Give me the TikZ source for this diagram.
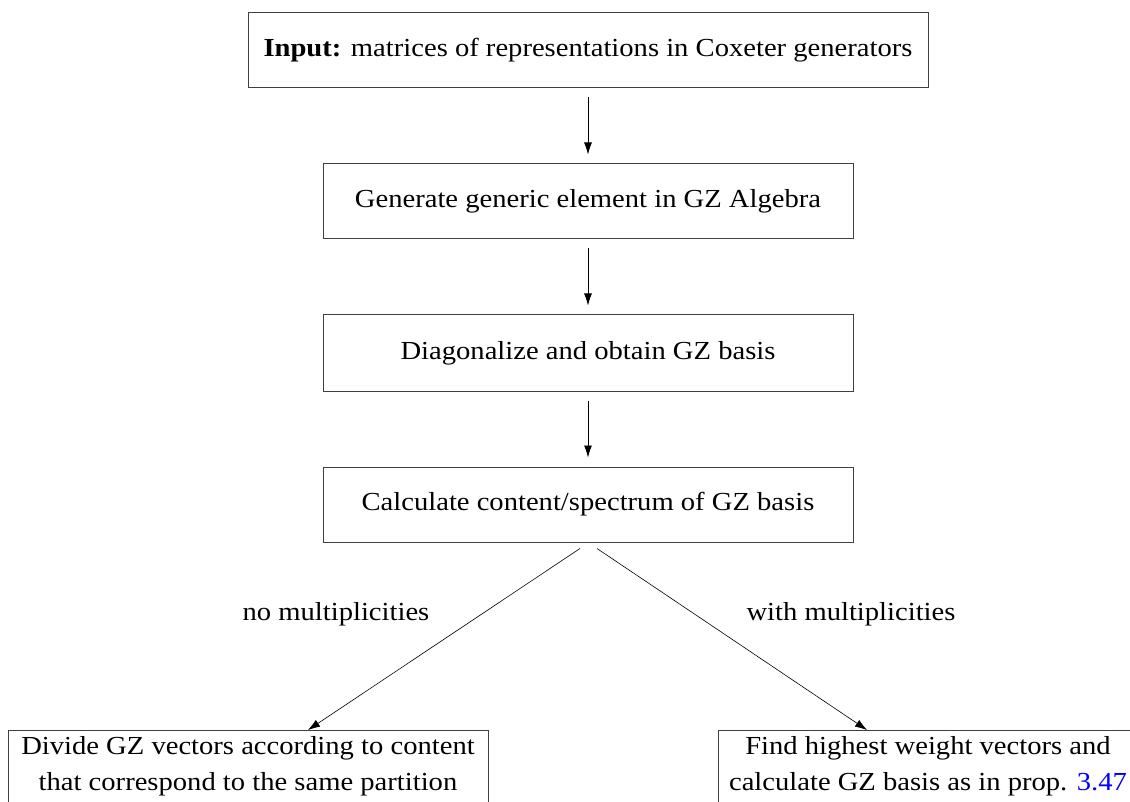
\documentclass[tikz,border=0pt]{standalone}
\usepackage{fontspec}
\setmainfont{Liberation Serif}[FakeStretch=1.1]
\usetikzlibrary{arrows.meta,calc}
\tikzset{
  procbox/.style={draw=black!75, line width=1pt, minimum height=75pt, inner sep=0pt, align=center, font=\fontsize{26}{34}\selectfont},
  endbox/.style={draw=black!75, line width=1pt, anchor=north, inner xsep=0pt, inner ysep=6pt, align=center, font=\fontsize{26}{36}\selectfont},
  flow/.style={line width=0.8pt, -{Latex[length=12pt,width=8pt]}, shorten <=9pt, shorten >=9pt},
  branch/.style={line width=0.6pt, -{Latex[length=12pt,width=8pt]}},
  lab/.style={font=\fontsize{26}{34}\selectfont, inner sep=0pt}
}
\begin{document}
\begin{tikzpicture}[x=1pt,y=1pt]
\useasboundingbox (0,0) rectangle (1130,-802);
\clip (0,0) rectangle (1130,-802);
\node[procbox, minimum width=680pt] (input) at (588,-50.5) {\textbf{Input:} matrices of representations in Coxeter generators};
\node[procbox, minimum width=530pt] (gen) at (588,-201.5) {Generate generic element in GZ Algebra};
\node[procbox, minimum width=530pt, minimum height=76pt] (diag) at (588,-353) {Diagonalize and obtain GZ basis};
\node[procbox, minimum width=530pt] (calc) at (588,-504.5) {Calculate content/spectrum of GZ basis};
\node[endbox, minimum width=480pt] (divide) at (248,-730) {Divide GZ vectors according to content\\that correspond to the same partition\rule[-30pt]{0pt}{0pt}};
\node[endbox, minimum width=420pt] (find) at (928,-730) {Find highest weight vectors and\\calculate GZ basis as in prop. \textcolor{blue}{3.47}\rule[-30pt]{0pt}{0pt}};
\draw[flow] (input.south) -- (gen.north);
\draw[flow] (gen.south) -- (diag.north);
\draw[flow] (diag.south) -- (calc.north);
\coordinate (ls) at ($(calc.south)+(-8,-6)$);
\coordinate (rs) at ($(calc.south)+(9,-6)$);
\draw[branch] (ls) -- ($(divide.north)+(60,0)$);
\draw[branch] (rs) -- ($(find.north)+(-61,0)$);
\node[lab] (nomult) at (336,-614) {no multiplicities};
\node[lab] (withmult) at (851,-614) {with multiplicities};
\end{tikzpicture}
\end{document}
